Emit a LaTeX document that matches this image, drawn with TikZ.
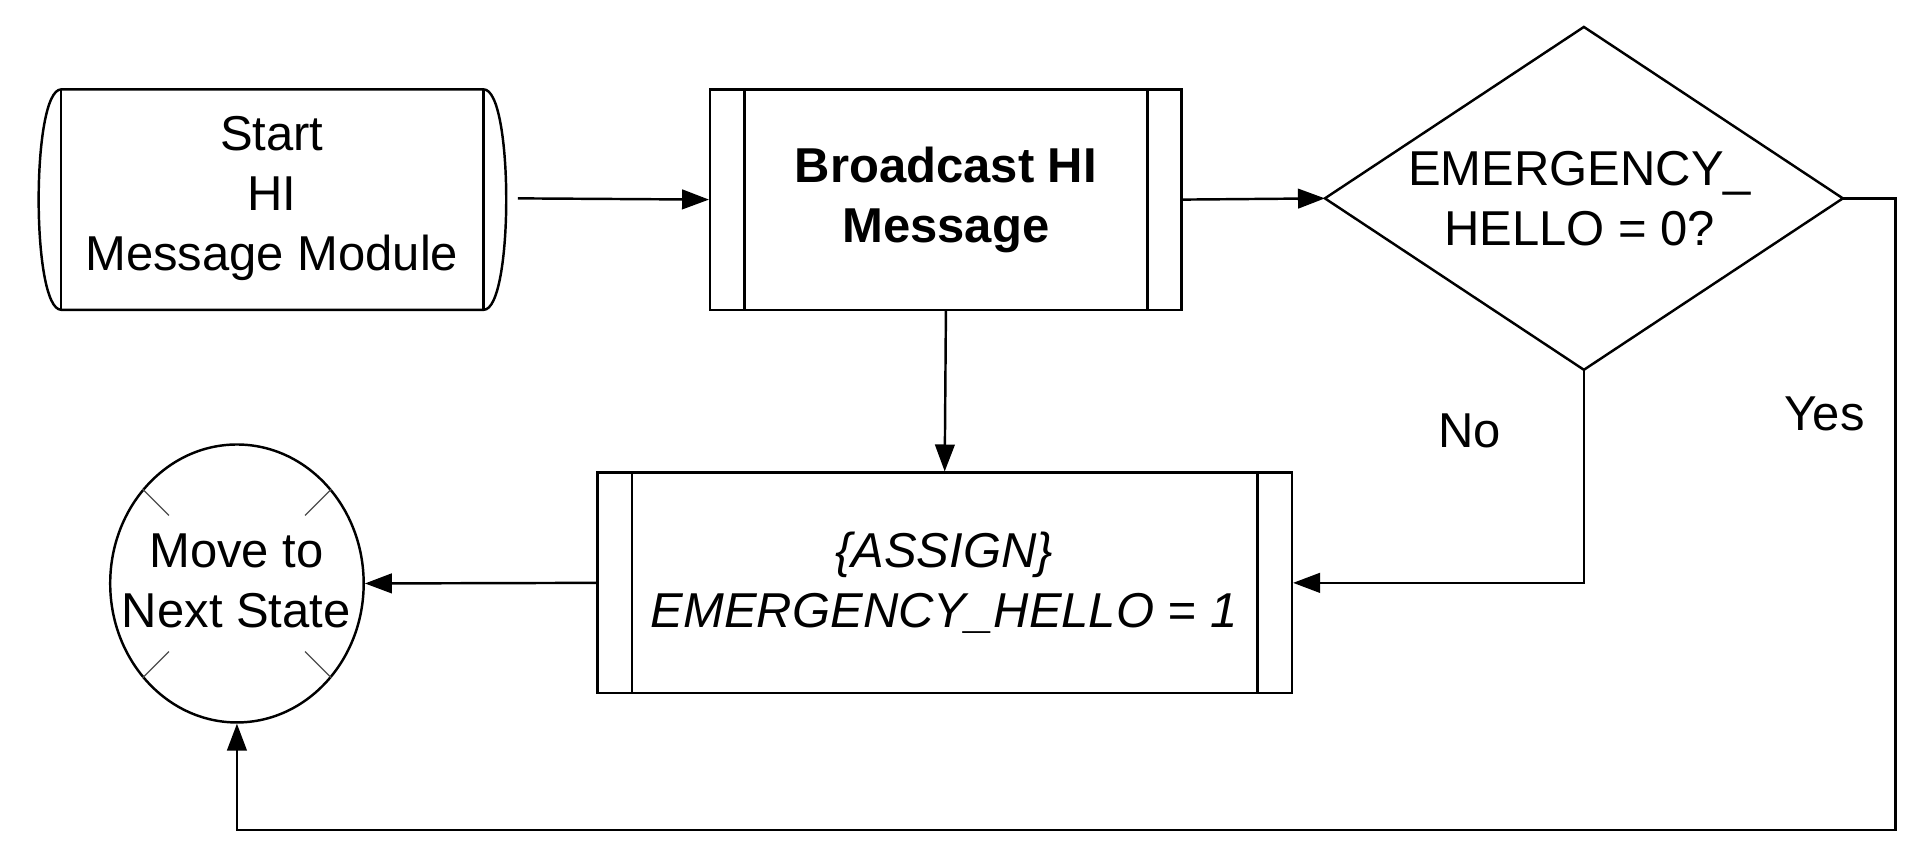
\documentclass[tikz,border=0pt]{standalone}
\usepackage{fontspec}
\setmainfont{Liberation Sans}
\usetikzlibrary{shapes.geometric,arrows.meta,calc}
\begin{document}
\begin{tikzpicture}[x=1pt,y=-1pt,
  line/.style={line width=2pt},
  arr/.style={line, -{Triangle[length=22pt,width=16pt]}},
  txt/.style={font=\fontsize{40}{49}\selectfont, align=center, inner sep=0pt},
  proc/.style={line, draw, rectangle, minimum width=385pt, minimum height=180pt, inner sep=0pt}]
\useasboundingbox (0,0) rectangle (1568,704);
% start terminal
\node[txt] (start) at (222,162) {Start\\HI\\Message Module};
\draw[line] (50,73) -- (395,73) to[out=0,in=0,looseness=0.35] (395,253) -- (50,253) to[out=180,in=180,looseness=0.35] (50,73);
\draw[line] (50,73) -- (50,253) (395,73) -- (395,253);
\coordinate (startE) at (423,162);
% broadcast
\node[proc] (bc) at (772.5,163) {};
\draw[line] (608,73) -- (608,253) (937,73) -- (937,253);
\node[txt, font=\fontsize{40}{49}\selectfont\bfseries] at (bc) {Broadcast HI\\Message};
% diamond
\coordinate (decW) at (1082,162);
\coordinate (decN) at (1293.5,22);
\coordinate (decE) at (1505,162);
\coordinate (decS) at (1293.5,302);
\draw[line] (decW) -- (decN) -- (decE) -- (decS) -- cycle;
\node[txt] (dec) at (1290,162) {EMERGENCY\_\\HELLO = 0?};
% assign
\node[proc, minimum width=567pt] (as) at (771.5,476) {};
\draw[line] (516,386) -- (516,566) (1027,386) -- (1027,566);
\node[txt, font=\fontsize{40}{49}\selectfont\itshape] at (771,476) {\{ASSIGN\}\\EMERGENCY\_HELLO = 1};
% circle
\node[line, draw, ellipse, minimum width=207pt, minimum height=227pt, inner sep=0pt] (nx) at (193.5,476.5) {};
\node[txt] at (193,474) {Move to\\Next State};
\foreach \a in {45,135,225,315}
  \draw[line width=1pt, gray!60!black] (nx.\a) -- ($(nx.\a)!0.28!(nx.center)$);
% connectors
\draw[arr] (startE) -- (bc.west);
\draw[arr] (bc.east) -- (decW);
\draw[arr] (bc.south) -- (as.north);
\draw[arr] (decS) |- (as.east);
\draw[arr] (as.west) -- (nx.east);
\draw[arr] (decE) -- (1548,162) -- (1548,678) -| (nx.south);
\node[txt] (no) at (1200,352) {No};
\node[txt] (yes) at (1490,338) {Yes};
\end{tikzpicture}
\end{document}
